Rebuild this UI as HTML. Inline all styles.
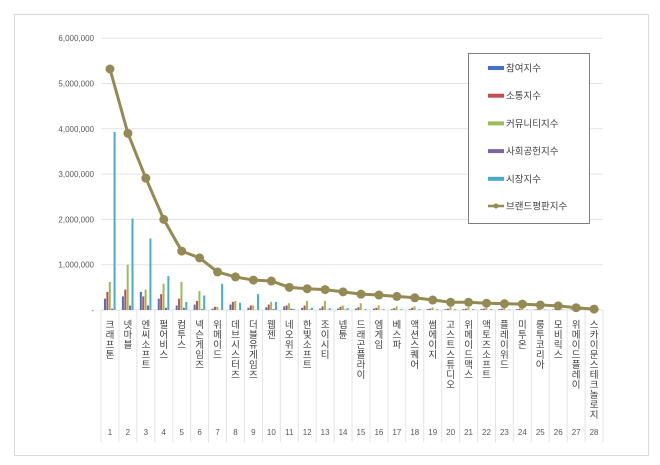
<!DOCTYPE html><html><head><meta charset="utf-8"><style>body{margin:0;background:#fff}svg{display:block;font-family:"Liberation Sans","Noto Sans CJK KR",sans-serif}</style></head><body>
<svg id="s" width="660" height="465" xmlns="http://www.w3.org/2000/svg"></svg>
<script>
const s=document.getElementById('s');let h='';
h+='<rect x="14.5" y="14.5" width="634" height="441" fill="#fff" stroke="#d9d9d9"/>';
const y0=310,k=45.3,x0=101,cw=17.93;
for(let i=0;i<=6;i++){const y=y0-i*k;h+=`<line x1="${x0}" x2="603" y1="${y}" y2="${y}" stroke="#e3e3e3"/>`;
h+=`<text x="94" y="${y+3}" font-size="8" text-anchor="end" fill="#595959">${i==0?'-':(i+',000,000')}</text>`;}
const names=['크래프톤','넷마블','엔씨소프트','펄어비스','컴투스','넥슨게임즈','위메이드','데브시스터즈','더블유게임즈','웹젠','네오위즈','한빛소프트','조이시티','넵튠','드래곤플라이','엠게임','베스파','액션스퀘어','썸에이지','고스트스튜디오','위메이드맥스','액토즈소프트','플레이위드','미투온','룽투코리아','모비릭스','위메이드플레이','스카이문스테크놀로지'];
const line=[5.32,3.9,2.91,2.0,1.3,1.15,0.84,0.73,0.66,0.64,0.5,0.47,0.45,0.4,0.35,0.33,0.3,0.27,0.22,0.17,0.17,0.15,0.14,0.13,0.11,0.09,0.05,0.02];
const bars=[[.25,.4,.62,.03,3.93],[.3,.45,1.0,.1,2.02],[.4,.3,.45,.1,1.58],[.25,.35,.58,.05,.75],[.1,.25,.62,.05,.18],[.12,.2,.42,.02,.32],[.03,.07,.07,0,.58],[.12,.18,.2,0,.16],[.05,.1,.1,0,.35],[.06,.12,.18,.02,.18],[.08,.1,.15,.03,.02],[.05,.1,.2,.01,.05],[.03,.08,.2,0,.04],[.03,.07,.1,.01,.04],[.03,.06,.15,0,.02],[.03,.05,.1,0,.02],[.02,.04,.08,0,.02],[.02,.05,.08,0,.02],[.02,.03,.06,0,.02],[.02,.03,.07,0,.02],[.02,.03,.06,0,.02],[.02,.03,.05,0,.02],[.02,.03,.05,0,.01],[.02,.03,.05,0,.01],[.01,.02,.04,0,.01],[.01,.02,.03,0,.01],[.01,.02,.03,0,.01],[.01,.01,.02,0,.01]];
const cols=['#4472c4','#c0504d','#9bbb59','#8064a2','#4bacc6'];
for(let i=0;i<28;i++){const cx=x0+cw*(i+.5);
bars[i].forEach((v,j)=>{const hh=v*k;h+=`<rect x="${cx-6+j*2.4}" y="${y0-hh}" width="2" height="${hh}" fill="${cols[j]}"/>`;});
h+=`<line x1="${x0+cw*i}" x2="${x0+cw*i}" y1="${y0}" y2="442" stroke="#e3e3e3"/>`;
let t='';[...names[i]].forEach((c,m)=>{t+=`<text x="${cx}" y="${328+m*10}" font-size="9.5" text-anchor="middle" fill="#404040">${c}</text>`});h+=t;
h+=`<text x="${cx}" y="435" font-size="8" text-anchor="middle" fill="#595959">${i+1}</text>`;}
h+=`<line x1="603" x2="603" y1="${y0}" y2="442" stroke="#e3e3e3"/>`;
let p=line.map((v,i)=>`${x0+cw*(i+.5)},${y0-v*k}`).join(' ');
h+=`<polyline points="${p}" fill="none" stroke="#948a54" stroke-width="3"/>`;
line.forEach((v,i)=>h+=`<circle cx="${x0+cw*(i+.5)}" cy="${y0-v*k}" r="4.5" fill="#948a54"/>`);
h+='<rect x="468.5" y="53.5" width="121" height="170" fill="#fff" stroke="#7f7f7f"/>';
const ln=['참여지수','소통지수','커뮤니티지수','사회공헌지수','시장지수'];
ln.forEach((n,j)=>{const y=68+j*27.7;h+=`<rect x="488" y="${y-2}" width="16" height="4" fill="${cols[j]}"/><text x="506" y="${y+3.5}" font-size="9.5" fill="#404040">${n}</text>`});
h+='<line x1="488" x2="504" y1="206" y2="206" stroke="#948a54" stroke-width="2.5"/><circle cx="496" cy="206" r="2.5" fill="#948a54"/><text x="506" y="209.5" font-size="9.5" fill="#404040">브랜드평판지수</text>';
s.innerHTML=h;
</script></body></html>
